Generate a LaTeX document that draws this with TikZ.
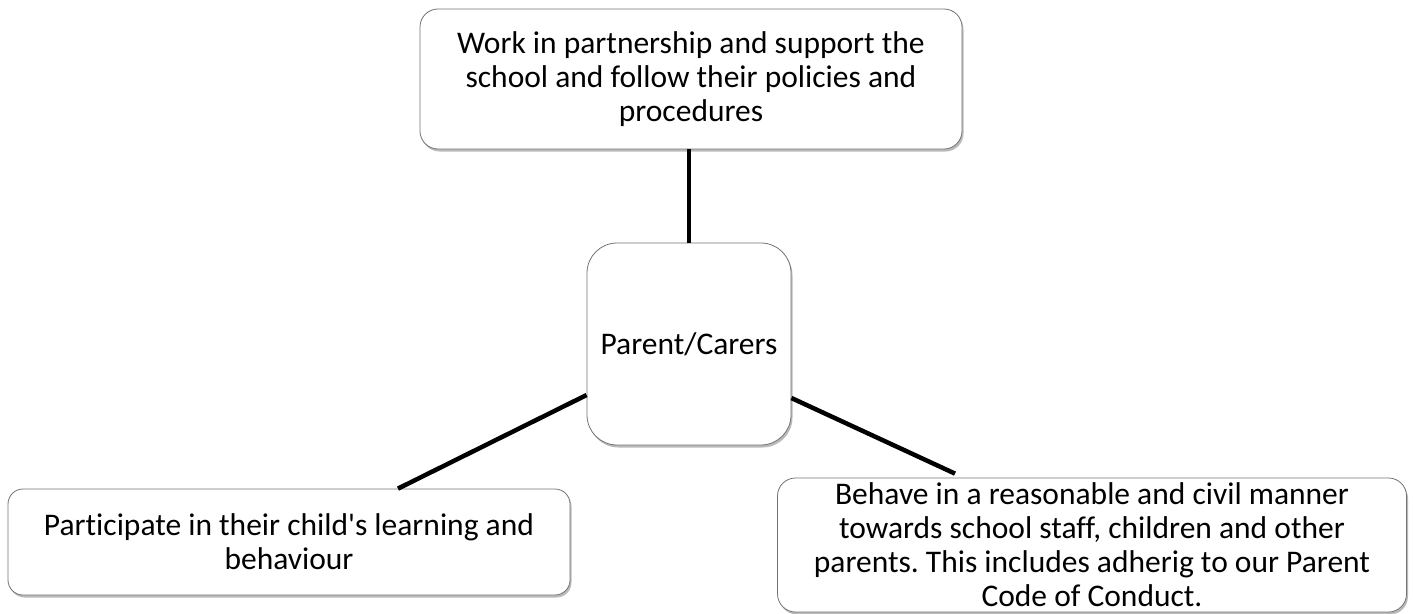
\documentclass[tikz,border=0pt]{standalone}
\usepackage{fontspec}
\setmainfont{Carlito}[Ligatures={NoCommon}]
\usetikzlibrary{shadows}
\frenchspacing
\begin{document}
\begin{tikzpicture}[x=1pt,y=-1pt,
  box/.style={draw=black!55, line width=0.8pt, fill=white, align=center,
    font=\fontsize{31.5}{34}\selectfont, inner sep=0pt,
    drop shadow={shadow xshift=1.5pt, shadow yshift=-2.5pt, fill=black!45, opacity=0.6}},
  link/.style={line width=4.5pt, black}]
\useasboundingbox (0,0) rectangle (1413,613);
\node[box, rounded corners=18pt, minimum width=542pt, minimum height=140pt] (top) at (691,79)
  {Work in partnership and support the\\school and follow their policies and\\procedures};
\node[box, rounded corners=30pt, minimum width=204pt, minimum height=202pt] (center) at (689,344)
  {Parent/Carers};
\node[box, rounded corners=15pt, minimum width=562pt, minimum height=106pt] (left) at (289,542)
  {Participate in their child\textquotesingle s learning and\\behaviour};
\node[box, rounded corners=18pt, minimum width=629pt, minimum height=134pt] (right) at (1092,545)
  {Behave in a reasonable and civil manner\\towards school staff, children and other\\parents. This includes adherig to our Parent\\Code of Conduct.};
\draw[link] (center.north) -- (center.north |- top.south);
\draw[link] ([yshift=-51pt]center.west) -- ([xshift=109pt]left.north);
\draw[link] ([yshift=-54pt]center.east) -- ([xshift=-137pt,yshift=4pt]right.north);
\end{tikzpicture}
\end{document}
